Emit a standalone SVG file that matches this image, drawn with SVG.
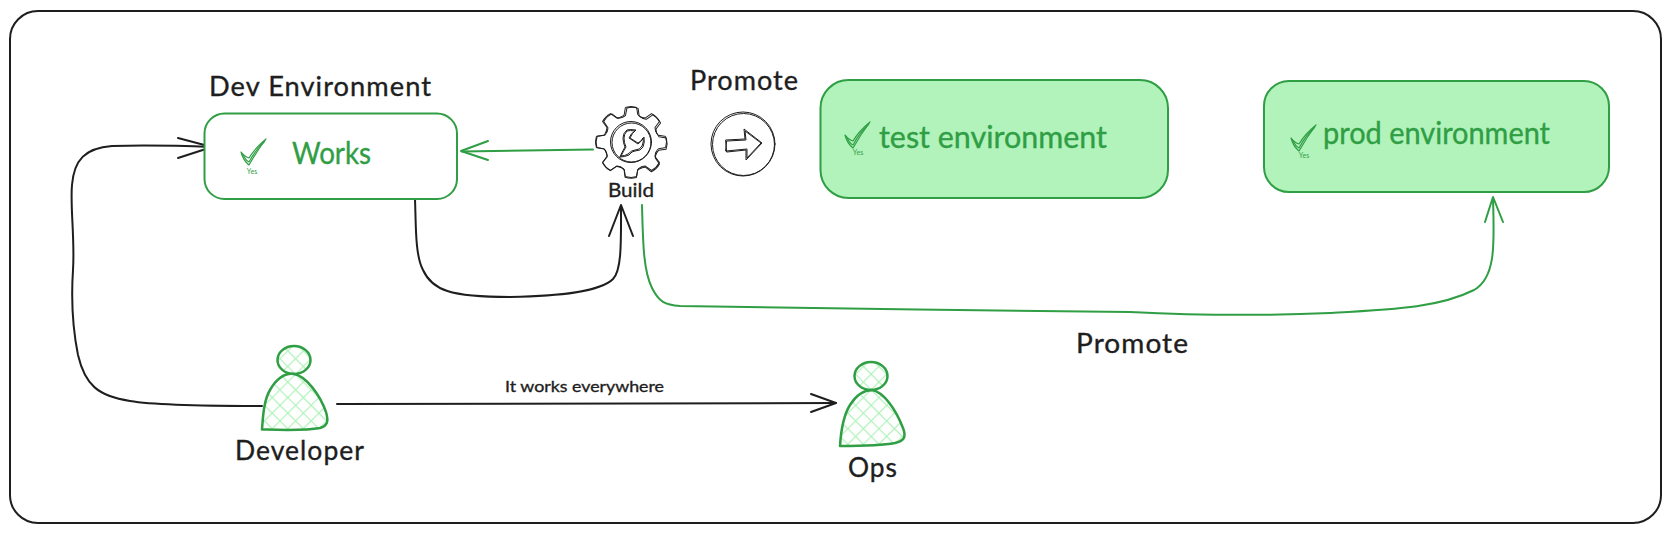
<svg xmlns="http://www.w3.org/2000/svg" xmlns:xlink="http://www.w3.org/1999/xlink" width="1670" height="534" viewBox="0 0 1670 534">
<style>
text{font-family:"Lato","Noto Sans",sans-serif;fill:#1e1e1e;stroke:#1e1e1e;stroke-width:.35}
.g{fill:#2f9e44;stroke:#2f9e44}
.lbl{font-size:26px;letter-spacing:1px}
.big{font-size:30px}
.yes{font-size:7px;fill:#2f9e44;stroke:none;text-anchor:middle}
.k{fill:none;stroke:#1e1e1e;stroke-width:2;stroke-linecap:round;stroke-linejoin:round}
.gr{fill:none;stroke:#2f9e44;stroke-width:2;stroke-linecap:round;stroke-linejoin:round}
.thin{fill:none;stroke:#1e1e1e;stroke-width:1;stroke-linejoin:round;stroke-linecap:round}
.box{stroke:#2f9e44;stroke-width:2}
.p{fill:url(#hatch);stroke:#2f9e44;stroke-width:2.5;stroke-linejoin:round}
</style>
<defs>
<pattern id="hatch" width="11" height="11" patternUnits="userSpaceOnUse" patternTransform="rotate(45)">
<path d="M0 0H11M0 0V11" stroke="#b2f2bb" stroke-width="2.4" fill="none"/>
</pattern>
<g id="tooth"><path d="M-10.300-24.900Q-8-26-6.800-27.200L-5.600-34.600Q0-36.400 5.600-34.600L6.800-27.200Q8-26 10.300-24.900"/></g>
<g id="check" fill="none" stroke="#2f9e44" stroke-width="1.200" stroke-linejoin="round">
<path d="M0 13Q4 18 8 19Q14 9 25 0Q16 12 8 26Q2 21 0 13Z"/>
<path d="M1 14Q5 22 8 23Q15 10 24 2"/>
</g>
</defs>

<rect id="frame" x="10" y="11" width="1651" height="512" rx="28" fill="#fff" stroke="#1e1e1e" stroke-width="2"/>

<g id="connectors">
<path class="k" d="M262 406C220 406 160 406 130 401C98 396 85 385 78 355C72 325 71 300 73 270C75 240 70 205 72 185C74 160 85 148 112 146C150 145 185 146 212 147"/>
<path class="k" d="M178 138L212 147L178 158"/>
<path class="gr" d="M593 149.500L462 151.500"/>
<path class="gr" d="M488 141L461 151L488 160"/>
<path class="k" d="M415 199C416 225 415 255 423 270C432 290 450 297 510 297C560 296 600 292 613 279C622 270 621 240 621 206"/>
<path class="k" d="M609 236L621 205L633 236"/>
<path class="gr" d="M642 205C643 240 643 270 652 288C659 302 665 305 680 306C800 309 1000 310 1130 312C1190 315 1260 316 1330 313C1400 309 1440 307 1474 290C1497 277 1494 240 1493 198"/>
<path class="gr" d="M1485 222L1493 197L1503 222"/>
<path class="k" d="M337 404L836 403"/>
<path class="k" d="M811 394L836 403L811 412"/>
</g>

<g id="dev-env">
<text class="lbl" x="209" y="96" textLength="223" lengthAdjust="spacingAndGlyphs">Dev Environment</text>
<rect class="box" x="204.500" y="113.500" width="252.500" height="85.500" rx="20" fill="#fff"/>
<use xlink:href="#check" href="#check" transform="translate(241 139)"/>
<text class="yes" x="252" y="174">Yes</text>
<text class="g big" x="292" y="164" textLength="79" lengthAdjust="spacingAndGlyphs">Works</text>
</g>

<g id="build">
<g class="thin" transform="translate(631 142)">
<use xlink:href="#tooth" href="#tooth"/><use xlink:href="#tooth" href="#tooth" transform="rotate(45)"/><use xlink:href="#tooth" href="#tooth" transform="rotate(90)"/><use xlink:href="#tooth" href="#tooth" transform="rotate(135)"/><use xlink:href="#tooth" href="#tooth" transform="rotate(180)"/><use xlink:href="#tooth" href="#tooth" transform="rotate(225)"/><use xlink:href="#tooth" href="#tooth" transform="rotate(270)"/><use xlink:href="#tooth" href="#tooth" transform="rotate(315)"/>
<g transform="translate(.6 .8) rotate(1.500)"><use xlink:href="#tooth" href="#tooth"/><use xlink:href="#tooth" href="#tooth" transform="rotate(45)"/><use xlink:href="#tooth" href="#tooth" transform="rotate(90)"/><use xlink:href="#tooth" href="#tooth" transform="rotate(135)"/><use xlink:href="#tooth" href="#tooth" transform="rotate(180)"/><use xlink:href="#tooth" href="#tooth" transform="rotate(225)"/><use xlink:href="#tooth" href="#tooth" transform="rotate(270)"/><use xlink:href="#tooth" href="#tooth" transform="rotate(315)"/></g>
<circle r="20.500"/><circle r="19.500" cx=".5" cy=".5"/>
<path d="M-11 15Q-6 15-2 13Q1 9 4 9Q10 9 12 5Q14 0 13-5Q11-1 7 1L-1-4Q1-9 5-12Q-1-13-4-12Q-8-9-8-4Q-8 1-6 5Q-9 10-11 15Z"/>
<path d="M-10 14Q-6 14-3 12Q1 8 4 8Q9 8 11 4Q13 0 12-4Q10 0 7 2L-2-4Q0-9 4-11Q-1-12-4-11Q-7-8-7-4Q-7 1-5 5Q-8 10-10 14Z"/>
</g>
<text x="631" y="197" font-size="19" text-anchor="middle" textLength="46" lengthAdjust="spacingAndGlyphs">Build</text>
</g>

<g id="promote-icon">
<text class="lbl" x="690" y="90" textLength="109" lengthAdjust="spacingAndGlyphs">Promote</text>
<g class="thin">
<circle cx="743" cy="144" r="32"/>
<circle cx="743.500" cy="144.500" r="31"/>
<path d="M726 140L745 139L744 129L762 143L746 160L746 150L727 152Z"/>
<path d="M727 141L746 140L745 131L761 143L747 158L747 149L726 151Z"/>
</g>
</g>

<g id="test-env">
<rect class="box" x="820.500" y="80" width="347.500" height="118" rx="28" fill="#b2f2bb"/>
<use xlink:href="#check" href="#check" transform="translate(845 122)"/>
<text class="yes" x="858" y="155">Yes</text>
<text class="g big" x="879" y="148" textLength="228" lengthAdjust="spacingAndGlyphs">test environment</text>
</g>

<g id="prod-env">
<rect class="box" x="1264" y="81" width="345" height="111" rx="25" fill="#b2f2bb"/>
<use xlink:href="#check" href="#check" transform="translate(1291 125)"/>
<text class="yes" x="1304" y="158">Yes</text>
<text class="g big" x="1323" y="144" textLength="227" lengthAdjust="spacingAndGlyphs">prod environment</text>
</g>

<g id="developer">
<ellipse class="p" cx="294" cy="360" rx="16.500" ry="14"/>
<path class="p" d="M262 429.500C263 415 264 400 270 390C277 378 286 373 294 374C306 376 320 395 326 412C329 422 327 426 320 428C305 431 280 430 262 429.500Z"/>
<text class="lbl" x="235" y="460" textLength="130" lengthAdjust="spacingAndGlyphs">Developer</text>
</g>

<g id="ops">
<ellipse class="p" cx="871" cy="376" rx="16.500" ry="14"/>
<path class="p" d="M840 446C841 430 843 416 850 405C857 394 865 390 872 390C884 392 896 410 903 428C907 438 903 441 895 443C880 446 858 446 840 446Z"/>
<text class="lbl" x="848" y="477" textLength="50" lengthAdjust="spacingAndGlyphs">Ops</text>
</g>

<g id="labels">
<text x="505" y="392" font-size="16" textLength="159" lengthAdjust="spacingAndGlyphs">It works everywhere</text>
<text class="lbl" x="1076" y="353" textLength="113" lengthAdjust="spacingAndGlyphs">Promote</text>
</g>
</svg>
